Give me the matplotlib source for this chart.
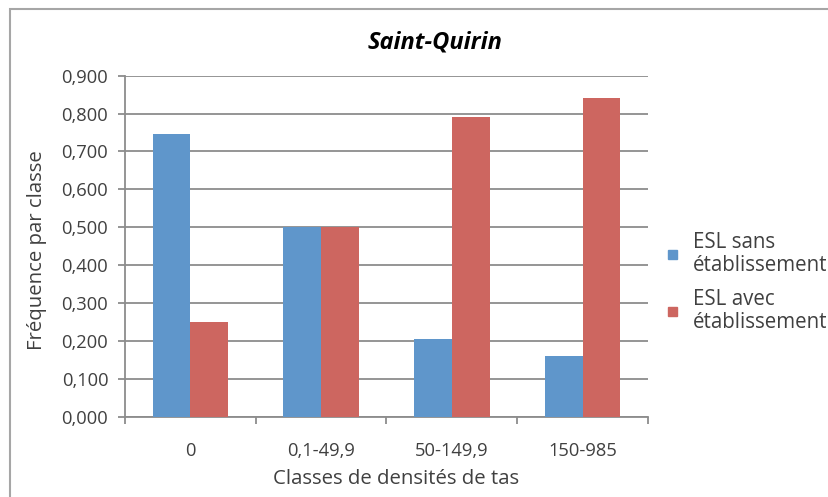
import matplotlib
matplotlib.use("Agg")
import matplotlib.pyplot as plt
import numpy as np
from matplotlib.patches import Rectangle
from matplotlib.ticker import FuncFormatter

plt.rcParams['font.family'] = ['Open Sans', 'DejaVu Sans']

# data
categories = ['0', '0,1-49,9', '50-149,9', '150-985']
sans_etab = [0.746, 0.5, 0.205, 0.161]
avec_etab = [0.249, 0.5, 0.790, 0.840]
series_names = ['ESL sans\nétablissement', 'ESL avec\nétablissement']
yticks = [0.0, 0.1, 0.2, 0.3, 0.4, 0.5, 0.6, 0.7, 0.8, 0.9]

blue = '#5F96CB'
red = '#CD6660'
grid_col = '#8C8C8C'
txt_col = '#404040'

W, H = 829, 497
fig = plt.figure(figsize=(W/100, H/100), dpi=100)
ax = fig.add_axes([125/W, 1 - 416.7/H, 523/W, 341/H])

x = np.arange(len(categories))
w = 0.289
ax.bar(x - w/2, sans_etab, w, color=blue, zorder=3)
ax.bar(x + w/2, avec_etab, w, color=red, zorder=3)

ax.set_xlim(-0.5, len(categories) - 0.5)
ax.set_ylim(0, 0.9)
ax.set_yticks(yticks)
ax.yaxis.set_major_formatter(FuncFormatter(lambda v, p: f'{v:.3f}'.replace('.', ',')))
ax.set_xticks(x)
ax.set_xticklabels(categories)
ax.set_xticks(np.arange(-0.5, len(categories)), minor=True)

ax.grid(axis='y', color=grid_col, linewidth=1.3, zorder=0)
for s in ['top', 'right']:
    ax.spines[s].set_visible(False)
for s in ['left', 'bottom']:
    ax.spines[s].set_color(grid_col)
    ax.spines[s].set_linewidth(1.3)

ax.tick_params(axis='y', length=5, width=1.3, color=grid_col, labelsize=13.2, labelcolor=txt_col, pad=7)
ax.tick_params(axis='x', which='major', length=0, labelsize=13.2, labelcolor=txt_col, pad=18)
ax.tick_params(axis='x', which='minor', length=5, width=1.3, color=grid_col)

# axis titles
fig.text(396/W, 1 - 479/H, 'Classes de densités de tas', ha='center', va='center',
         fontsize=14.7, color=txt_col)
fig.text(37/W, 1 - 250/H, 'Fréquence par classe', ha='center', va='center',
         rotation=90, fontsize=14.7, color=txt_col)

fig.text(435/W, 1 - 42/H, 'Saint-Quirin', ha='center', va='center',
         fontsize=17, fontweight='bold', fontstyle='italic', color='black')

# legend
leg_y = [254, 311]
for name, col, yy in zip(series_names, [blue, red], leg_y):
    fig.patches.append(Rectangle((668/W, 1 - (yy + 4.5)/H), 9/W, 9/H,
                                 transform=fig.transFigure, color=col))
    fig.text(693/W, 1 - yy/H, name, ha='left', va='center', fontsize=14.8,
             color=txt_col, linespacing=1.1)

# chart border
fig.patches.append(Rectangle((10/W, -0.1), 1.1, 1 - 9/H + 0.1, transform=fig.transFigure,
                             fill=False, edgecolor='#A6A6A6', linewidth=1.5))

fig.savefig('out.png', dpi=100)
